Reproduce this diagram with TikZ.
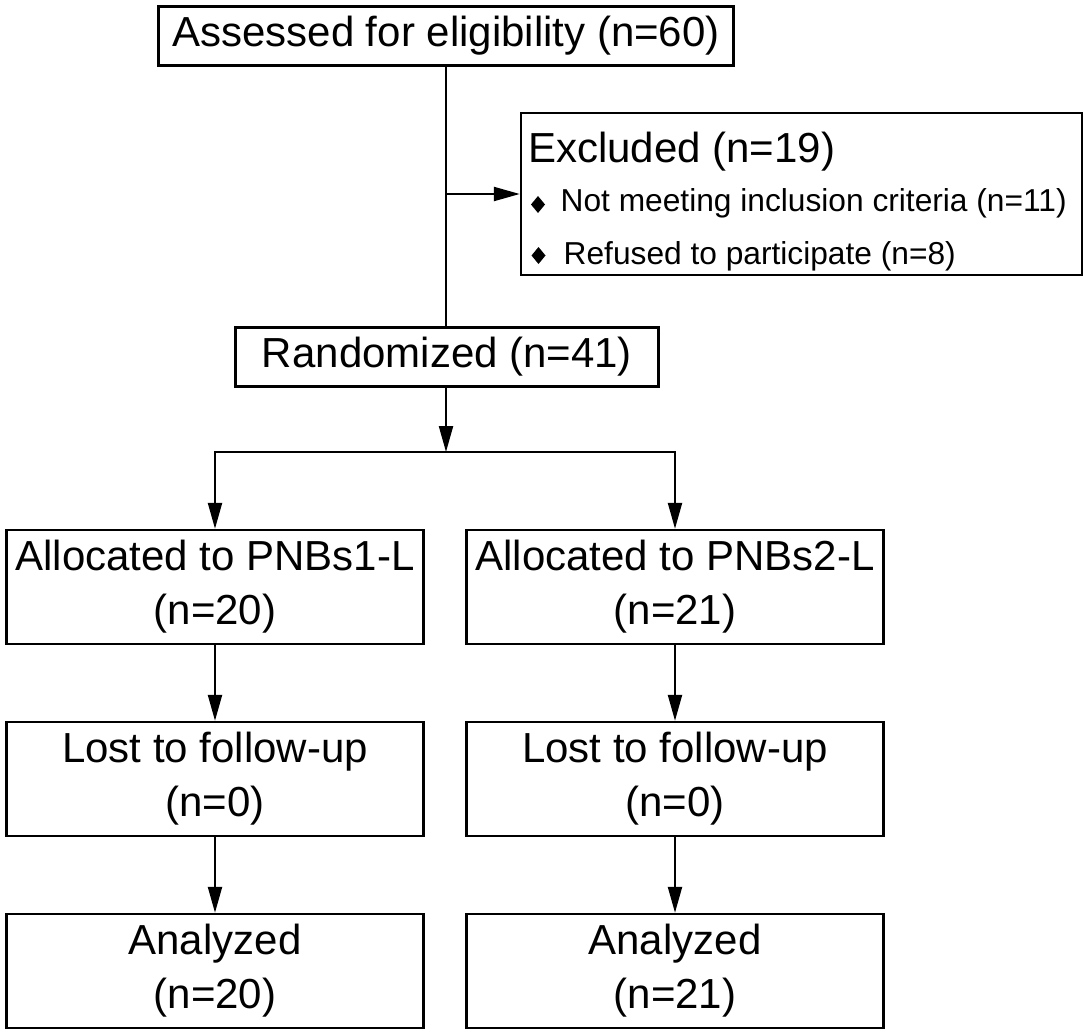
\documentclass[tikz,border=0pt]{standalone}
\usepackage{fontspec}
\setmainfont{Liberation Sans}
\usetikzlibrary{arrows.meta}
\begin{document}
\begin{tikzpicture}[x=1pt,y=-1pt,
  box/.style={draw, line width=2.4pt, align=center, inner sep=0pt,
    minimum width=417pt, minimum height=114pt,
    font=\fontsize{42}{54}\selectfont},
  onebox/.style={draw, line width=2.4pt, inner sep=0pt, minimum height=59pt,
    font=\fontsize{42}{54}\selectfont},
  conn/.style={line width=2.2pt},
  arr/.style={conn, -{Triangle[length=26pt,width=14pt]}},
  bigtext/.style={inner sep=0pt, anchor=base west, font=\fontsize{42}{54}\selectfont},
  smalltext/.style={inner sep=0pt, anchor=base west, font=\fontsize{31.7}{40}\selectfont},
  bullet/.style={fill=black}
]
\useasboundingbox (0,0) rectangle (1084,1034);

% boxes
\node[onebox, minimum width=575pt] (top) at (446,36) {Assessed for eligibility (n=60)};
\node[draw, line width=2.4pt, inner sep=0pt, minimum width=561pt, minimum height=162pt] (excl) at (801.5,194) {};
\node[bigtext] (exclT) at (528,162) {Excluded (n=19)};
\node[smalltext] (exclA) at (560.5,211) {Not meeting inclusion criteria (n=11)};
\node[smalltext] (exclB) at (563.5,264) {Refused to participate (n=8)};
\fill[bullet] (538,196) -- (545,204.5) -- (538,213) -- (531,204.5) -- cycle;
\fill[bullet] (538.5,247) -- (545.5,255.5) -- (538.5,264) -- (531.5,255.5) -- cycle;

\node[onebox, minimum width=423pt] (rand) at (447,357) {Randomized (n=41)};

\node[box] (alloc1) at (215,587) {Allocated to PNBs1-L\\(n=20)};
\node[box] (alloc2) at (675,587) {Allocated to PNBs2-L\\(n=21)};
\node[box] (lost1) at (215,779) {Lost to follow-up\\(n=0)};
\node[box] (lost2) at (675,779) {Lost to follow-up\\(n=0)};
\node[box] (anal1) at (215,971) {Analyzed\\(n=20)};
\node[box] (anal2) at (675,971) {Analyzed\\(n=21)};

% connectors
\coordinate (j) at (446,452);
\draw[conn] (top.south) -- (top.south |- rand.north);
\draw[arr] (top.south |- excl.west) -- (excl.west);
\draw[arr] (rand.south -| j) -- (j);
\draw[conn, line cap=rect] (alloc1.north |- j) -- (alloc2.north |- j);
\draw[arr] (alloc1.north |- j) -- (alloc1.north);
\draw[arr] (alloc2.north |- j) -- (alloc2.north);
\draw[arr] (alloc1.south) -- (lost1.north);
\draw[arr] (alloc2.south) -- (lost2.north);
\draw[arr] (lost1.south) -- (anal1.north);
\draw[arr] (lost2.south) -- (anal2.north);
\end{tikzpicture}
\end{document}
